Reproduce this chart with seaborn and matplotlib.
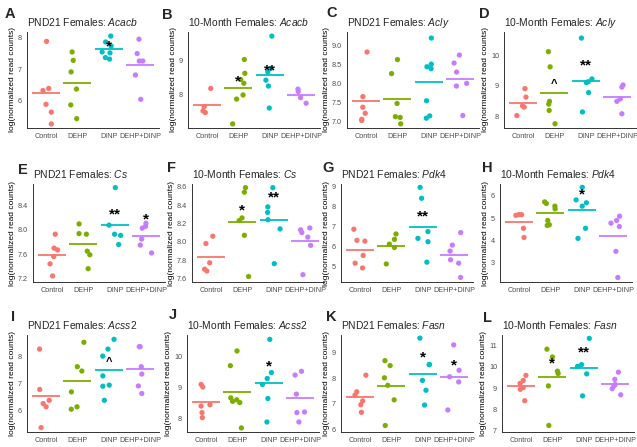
import numpy as np
import pandas as pd
import matplotlib
matplotlib.use('Agg')
import matplotlib.pyplot as plt
import seaborn as sns

sns.set_style("white")
plt.rcParams['font.family'] = ['Liberation Sans', 'DejaVu Sans']
plt.rcParams['mathtext.fontset'] = 'custom'
plt.rcParams['mathtext.rm'] = 'Liberation Sans'
plt.rcParams['mathtext.it'] = 'Liberation Sans:italic'

groups = ["Control", "DEHP", "DINP", "DEHP+DINP"]
palette = ["#F8766D", "#7CAE00", "#00BFC4", "#C77CFF"]

# values per group: Control, DEHP, DINP, DEHP+DINP
pnd21_acacb = [[7.89, 6.38, 6.31, 5.87, 5.62, 5.24],
               [7.55, 7.28, 6.91, 6.36, 5.85, 5.41],
               [8.06, 7.87, 7.74, 7.52, 7.55, 7.32, 7.37],
               [7.96, 7.50, 7.26, 7.26, 6.81, 6.03]]
m10_acacb = [[8.18, 7.65, 7.53, 7.48],
             [9.02, 8.62, 8.44, 8.33, 7.99, 7.87, 7.15],
             [9.70, 8.76, 8.66, 8.42, 8.25, 7.61],
             [8.16, 8.09, 7.91, 7.75]]
pnd21_acly = [[8.83, 7.65, 7.37, 7.21, 7.05, 7.02],
              [8.63, 8.26, 7.47, 7.12, 7.10, 6.93],
              [9.20, 8.51, 8.44, 8.39, 7.54, 7.14, 7.08],
              [8.75, 8.54, 8.30, 8.00, 7.93, 7.15]]
m10_acly = [[8.91, 8.63, 8.34, 8.30, 8.02],
            [10.13, 9.63, 8.49, 8.40, 8.19, 7.75],
            [10.58, 9.23, 9.14, 9.11, 8.78, 8.14],
            [9.03, 8.96, 8.57, 8.49, 8.08]]
pnd21_cs = [[7.93, 7.70, 7.67, 7.56, 7.44, 7.24],
            [8.10, 7.94, 7.93, 7.65, 7.59, 7.36],
            [8.70, 8.08, 7.93, 7.91, 7.76],
            [8.11, 8.06, 8.03, 7.85, 7.75, 7.62]]
m10_cs = [[8.06, 7.98, 7.77, 7.70, 7.68],
          [8.59, 8.54, 8.26, 8.23, 8.07, 7.62],
          [8.59, 8.38, 8.32, 8.24, 8.14, 7.76],
          [8.15, 8.13, 8.10, 8.05, 7.96, 7.64]]
pnd21_pdk4 = [[6.86, 6.26, 6.30, 5.54, 5.15, 4.91],
              [6.62, 6.35, 6.11, 5.94, 5.11],
              [8.97, 8.42, 6.74, 6.40, 6.23, 5.20],
              [6.69, 6.06, 5.76, 5.32, 5.15, 4.43]]
m10_pdk4 = [[5.15, 5.15, 5.12, 4.54, 4.13],
            [5.72, 5.65, 5.53, 5.41, 4.89, 4.67, 4.70],
            [6.37, 5.81, 5.68, 5.53, 4.54, 4.09],
            [5.08, 4.89, 4.77, 4.62, 3.51, 2.34]]
pnd21_acss2 = [[8.27, 6.78, 6.38, 6.26, 6.14, 5.37],
               [8.52, 7.62, 7.46, 6.69, 6.14, 6.05],
               [8.63, 8.27, 8.01, 7.28, 6.94, 6.90, 6.38],
               [8.36, 8.36, 7.62, 7.35, 6.91, 6.63]]
m10_acss2 = [[9.10, 9.02, 8.45, 8.41, 8.20, 8.04],
             [10.17, 9.70, 8.67, 8.61, 8.56, 8.52, 7.71],
             [10.54, 9.48, 9.29, 9.10, 8.65, 7.90],
             [9.52, 9.40, 8.79, 8.22, 8.20, 7.90]]
pnd21_fasn = [[8.11, 7.47, 7.34, 7.12, 6.97, 6.68],
              [8.67, 8.48, 8.01, 7.72, 7.16, 6.17],
              [9.54, 8.52, 8.52, 7.91, 7.53, 6.96],
              [9.28, 8.30, 8.05, 7.85, 6.77]]
m10_fasn = [[9.60, 9.36, 9.22, 9.02, 8.94, 8.40],
            [10.84, 10.47, 9.80, 9.69, 9.10, 7.23],
            [11.35, 10.11, 10.03, 9.67, 8.63],
            [9.75, 9.41, 9.17, 9.10, 8.97, 8.68]]

panel_data = [pnd21_acacb, m10_acacb, pnd21_acly, m10_acly,
              pnd21_cs, m10_cs, pnd21_pdk4, m10_pdk4,
              pnd21_acss2, m10_acss2, pnd21_fasn, m10_fasn]
letters = list("ABCDEFGHIJKL")
ages = ["PND21", "10-Month"] * 6
genes = ["Acacb", "Acacb", "Acly", "Acly", "Cs", "Cs",
         "Pdk4", "Pdk4", "Acss2", "Acss2", "Fasn", "Fasn"]
yticks = [["6", "7", "8"], ["8", "9"], ["7.0", "7.5", "8.0", "8.5", "9.0"], ["8", "9", "10"],
          ["7.2", "7.6", "8.0", "8.4"], ["7.6", "7.8", "8.0", "8.2", "8.4", "8.6"],
          ["5", "6", "7", "8", "9"], ["3", "4", "5", "6"],
          ["6", "7", "8"], ["8", "9", "10"], ["6", "7", "8", "9"], ["7", "8", "9", "10", "11"]]
ylims = [(5.11, 8.19), (7.03, 9.82), (6.82, 9.36), (7.61, 10.78),
         (7.14, 8.76), (7.56, 8.63), (4.2, 9.14), (2.14, 6.52),
         (5.21, 8.79), (7.58, 10.68), (5.92, 9.66), (6.92, 11.51)]
# significance marks: (group index, label, y)
marks = [[(2, "*", 7.74)],
         [(1, "*", 8.38), (2, "**", 8.69)],
         [],
         [(1, "^", 9.05), (2, "**", 9.67)],
         [(2, "**", 8.25), (3, "*", 8.17)],
         [(1, "*", 8.34), (2, "**", 8.48)],
         [(2, "**", 7.48)],
         [(2, "*", 6.03)],
         [(2, "^", 7.80)],
         [(2, "*", 9.66)],
         [(2, "*", 8.80), (3, "*", 8.48)],
         [(1, "*", 10.14), (2, "**", 10.70)]]

# layout in pixels (figure 637 x 447)
W, H = 637, 447
row_tb = [(32, 128), (184, 282), (335, 432)]
col_left = [[27, 188, 347, 504], [33, 192, 341, 500], [27, 187, 341, 502]]
ax_w = 132
letter_xy = [(10, 14), (167, 15), (332, 13), (484, 14),
             (23, 170), (172, 168), (328, 168), (487, 168),
             (13, 317), (173, 315), (331, 317), (487, 318)]

fig = plt.figure(figsize=(W / 100, H / 100), dpi=100)
np.random.seed(3)

for k in range(12):
    r, c = divmod(k, 4)
    top, bot = row_tb[r]
    left = col_left[r][c]
    ax = fig.add_axes([left / W, 1 - bot / H, ax_w / W, (bot - top) / H])
    vals = panel_data[k]
    df = pd.DataFrame({"group": [g for g, v in zip(groups, vals) for _ in v],
                       "value": [x for v in vals for x in v]})
    sns.stripplot(data=df, x="group", y="value", hue="group", order=groups,
                  hue_order=groups, palette=palette, jitter=0.22, size=3.8,
                  linewidth=0, legend=False, ax=ax)
    means = df.groupby("group")["value"].mean().reindex(groups)
    for i, m in enumerate(means):
        ax.hlines(m, i - 0.45, i + 0.45, color=palette[i], lw=1.3, zorder=1)
    for gi, lab, y in marks[k]:
        ax.text(gi, y, lab, ha="center", va="center", fontsize=11 if lab != "^" else 8,
                fontweight="bold", color="black")
    ax.set_xlim(-0.6, 3.6)
    ax.set_ylim(*ylims[k])
    ax.set_yticks([float(t) for t in yticks[k]])
    ax.set_yticklabels(yticks[k])
    ax.set_xlabel("")
    ax.set_ylabel("log(normalized read counts)", fontsize=6, labelpad=1.5, color="black")
    ax.tick_params(axis="both", labelsize=5.2, colors="#4D4D4D", length=2, width=0.5, pad=1.5)
    for s in ["top", "right"]:
        ax.spines[s].set_visible(False)
    for s in ["left", "bottom"]:
        ax.spines[s].set_color("#333333")
        ax.spines[s].set_linewidth(0.7)
    ax.set_title(f"{ages[k]} Females: $\\it{{{genes[k]}}}$", loc="left",
                 fontsize=7.4, pad=4.5)
    lx, ly = letter_xy[k]
    fig.text(lx / W, 1 - ly / H, letters[k], ha="center", va="center",
             fontsize=10.5, fontweight="bold")

fig.savefig("out.png", dpi=100)
